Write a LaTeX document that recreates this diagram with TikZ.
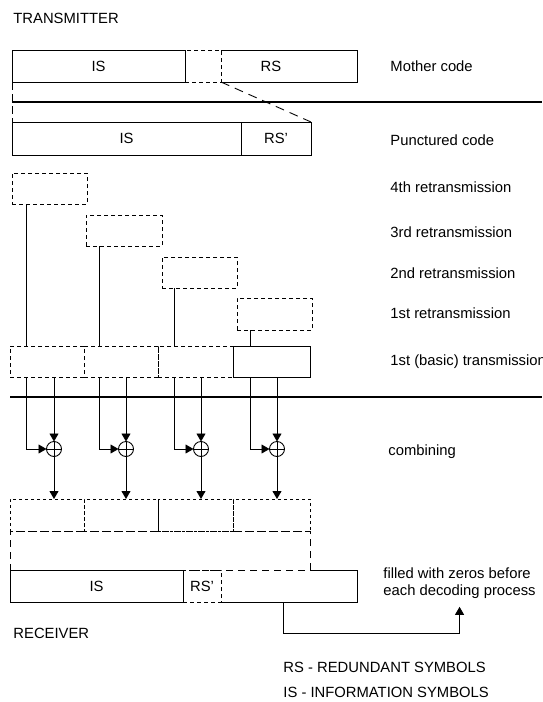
\documentclass[tikz,border=0pt]{standalone}
\usepackage{fontspec}
\setmainfont{Liberation Sans}
\usetikzlibrary{positioning,arrows.meta}

\tikzset{
  cell/.style={draw, anchor=north west, inner sep=0pt, outer sep=0pt, minimum height=32pt, minimum width=75pt},
  ghost/.style={cell, dash pattern=on 4pt off 3pt},
  bare/.style={cell, draw=none},
  lbl/.style={anchor=west, inner sep=0pt},
  xor/.style={circle, draw, minimum size=15pt, inner sep=0pt, outer sep=0pt,
    path picture={\draw (path picture bounding box.north) -- (path picture bounding box.south)
      (path picture bounding box.west) -- (path picture bounding box.east);}},
  sep/.style={line width=2.2pt},
}

\begin{document}
\begin{tikzpicture}[x=1pt, y=-1pt, line width=0.9pt, >={Triangle[length=8pt,width=9pt]}, font=\fontsize{14.8pt}{17pt}\selectfont]
    \useasboundingbox (0,0) rectangle (542,702);

    % Sender
    \node[lbl] (ttl) at (13,18) {TRANSMITTER};

    % Muttercode
    \node[cell, minimum width=173pt] (mIS) at (12,50) {IS};
    \node[bare, minimum width=172pt] (mRS) at (185,50) {RS};
    \node[ghost, minimum width=36pt] (mcut) at (185,50) {};
    \draw (mcut.north east) -- (mRS.north east) -- (mRS.south east) -- (mcut.south east);
    \node[lbl] (lmother) at (390,66) {Mother code};

    \draw[sep] (12,102) -- (542,102);

    % punktierter Code
    \node[cell, minimum width=229pt, minimum height=33pt] (pIS) at (12,122) {IS};
    \node[cell, minimum width=70pt, minimum height=33pt] (pRS) at (241,122) {RS'};
    \node[lbl] (lpunct) at (390,140) {Punctured code};
    \draw[dash pattern=on 8pt off 4pt] (mIS.south west) -- (pIS.north west);
    \draw[dash pattern=on 9pt off 6pt] (mcut.south east) -- (pRS.north east);

    % Wiederholungen
    \node[ghost, minimum height=31pt] (re4) at (12,173) {};
    \node[ghost, minimum height=31pt, minimum width=76pt] (re3) at (86,215) {};
    \node[ghost, minimum height=31pt] (re2) at (162,257) {};
    \node[ghost] (re1) at (237,298) {};
    \node[lbl] (l4) at (390,187) {4th retransmission};
    \node[lbl] (l3) at (390,232) {3rd retransmission};
    \node[lbl] (l2) at (390,273) {2nd retransmission};
    \node[lbl] (l1) at (390,313) {1st retransmission};

    % erste Uebertragung
    \node[ghost, minimum height=31pt, minimum width=74pt] (b1) at (10,346) {};
    \node[ghost, minimum height=31pt, minimum width=74pt] (b2) at (84,346) {};
    \node[ghost, minimum height=31pt] (b3) at (158,346) {};
    \node[cell, minimum height=31pt, minimum width=77pt] (b4) at (233,346) {};
    \node[lbl] (l0) at (390,362) {1st (basic) transmission};

    \coordinate (d1) at ([xshift=16pt]b1.south west);
    \coordinate (d2) at ([xshift=15pt]b2.south west);
    \coordinate (d3) at ([xshift=16pt]b3.south west);
    \coordinate (d4) at ([xshift=17pt]b4.south west);
    \draw (re4.south -| d1) -- (b1.north -| d1);
    \draw (re3.south -| d2) -- (b2.north -| d2);
    \draw (re2.south -| d3) -- (b3.north -| d3);
    \draw (re1.south -| d4) -- (b4.north -| d4);

    \draw[sep] (10,397) -- (542,397);

    % Kombinieren
    \node[xor] (c1) at (54,449) {};
    \node[xor] (c2) at (126,449) {};
    \node[xor] (c3) at (201,449) {};
    \node[xor] (c4) at (277,449) {};
    \node[lbl] (lcomb) at (388,452) {combining};

    % Empfangspuffer
    \node[ghost, dash pattern=on 3pt off 3pt, minimum width=74pt] (q1) at (10,499) {};
    \node[ghost, dash pattern=on 3pt off 3pt, minimum width=74pt] (q2) at (84,499) {};
    \node[ghost, dash pattern=on 3pt off 3pt] (q3) at (158,499) {};
    \node[ghost, dash pattern=on 3pt off 3pt, minimum width=77pt] (q4) at (233,499) {};
    \node[ghost, dash pattern=on 7pt off 5pt, minimum width=300pt, minimum height=39pt] (qall) at (10,531) {};

    \draw[->] (d1) |- (c1.west);
    \draw[->] (d2) |- (c2.west);
    \draw[->] (d3) |- (c3.west);
    \draw[->] (d4) |- (c4.west);
    \draw[->] (b1.south -| c1) -- (c1.north);
    \draw[->] (b2.south -| c2) -- (c2.north);
    \draw[->] (b3.south -| c3) -- (c3.north);
    \draw[->] (b4.south -| c4) -- (c4.north);
    \draw[->] (c1.south) -- (c1 |- q1.north);
    \draw[->] (c2.south) -- (c2 |- q2.north);
    \draw[->] (c3.south) -- (c3 |- q3.north);
    \draw[->] (c4.south) -- (c4 |- q4.north);

    % Empfaenger
    \node[cell, minimum width=173pt] (rIS) at (10,570) {IS};
    \node[bare, minimum width=174pt] (rRS) at (183,570) {};
    \node[ghost, minimum width=38pt] (rcut) at (183,570) {RS'};
    \draw (qall.south east) -- (rRS.north east) -- (rRS.south east) -- (rcut.south east);

    \node[lbl, align=left] (note) at (383,583) {filled with zeros before\\each decoding process};
    \coordinate (tap) at ([xshift=100pt]rRS.south west);
    \draw[->] (tap) -- ++(0,31) -| ([yshift=-8pt]note.south);

    \node[lbl] (rx) at (13,633) {RECEIVER};

    % Legende
    \node[lbl] (lgrs) at (283,667) {RS - REDUNDANT SYMBOLS};
    \node[lbl] (lgis) at (283,692) {IS - INFORMATION SYMBOLS};

\end{tikzpicture}
\end{document}
